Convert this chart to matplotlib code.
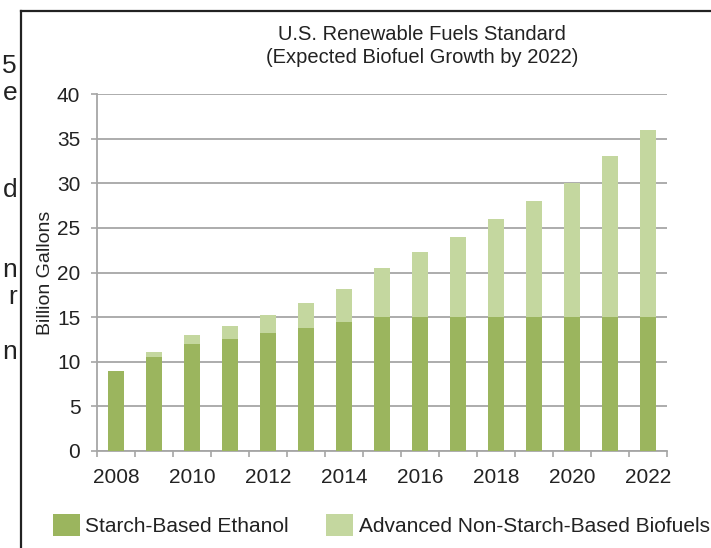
import matplotlib.pyplot as plt
import numpy as np

years = [2008, 2009, 2010, 2011, 2012, 2013, 2014, 2015,
         2016, 2017, 2018, 2019, 2020, 2021, 2022]
starch = [9.0, 10.5, 12.0, 12.6, 13.2, 13.8, 14.4, 15.0,
          15.0, 15.0, 15.0, 15.0, 15.0, 15.0, 15.0]
advanced = [0.0, 0.6, 0.95, 1.35, 2.0, 2.75, 3.75, 5.5,
            7.25, 9.0, 11.0, 13.0, 15.0, 18.0, 21.0]
year_labels = ["2008", "2010", "2012", "2014", "2016", "2018", "2020", "2022"]

dark = "#9bb55e"
light = "#c4d79f"
grid = "#a6a6a6"

plt.rcParams["font.family"] = ["Liberation Sans", "DejaVu Sans"]

W, H = 711, 548
fig = plt.figure(figsize=(W / 100, H / 100), dpi=100)

# frame of the chart box (only left and top edges are visible)
fig.add_artist(plt.Line2D([21 / W, 21 / W], [0, 1 - 11 / H], color="#222222", lw=1.6))
fig.add_artist(plt.Line2D([21 / W, 1], [1 - 11 / H, 1 - 11 / H], color="#222222", lw=1.6))

# clipped page text at the left margin
for ch, y in [("5", 66), ("e", 93), ("d", 190), ("n", 270), ("r", 297), ("n", 352)]:
    fig.text(17 / W, 1 - y / H, ch, ha="right", va="center", fontsize=19, color="#222222")

ax = fig.add_axes([97 / W, 1 - 451 / H, 570 / W, 357 / H])
x = np.arange(len(years))
ax.bar(x, starch, width=0.41, color=dark, label="Starch-Based Ethanol", zorder=3)
ax.bar(x, advanced, width=0.41, bottom=starch, color=light,
       label="Advanced Non-Starch-Based Biofuels", zorder=3)

ax.set_xlim(-0.5, len(years) - 0.5)
ax.set_ylim(0, 40)
ax.set_yticks(range(0, 41, 5))
ax.yaxis.grid(True, color=grid, lw=1.3, zorder=0)
ax.set_axisbelow(True)

ax.set_xticks(np.arange(-0.5, len(years), 1.0))
ax.set_xticklabels([])
ax.set_xticks(x[::2], minor=True)
ax.set_xticklabels(year_labels, minor=True)
ax.tick_params(axis="x", which="major", length=4, width=1.2, color=grid)
ax.tick_params(axis="x", which="minor", length=0, pad=12, labelsize=15, labelcolor="#222222")
ax.tick_params(axis="y", length=4, width=1.2, color=grid, pad=8, labelsize=15,
               labelcolor="#222222")

for s in ["top", "right"]:
    ax.spines[s].set_visible(False)
for s in ["left", "bottom"]:
    ax.spines[s].set_color(grid)
    ax.spines[s].set_linewidth(1.3)

ax.set_ylabel("Billion Gallons", fontsize=14, color="#222222", labelpad=2)

fig.text(422 / W, 1 - 46 / H, "U.S. Renewable Fuels Standard\n(Expected Biofuel Growth by 2022)",
         ha="center", va="center", fontsize=14.5, color="#222222", linespacing=1.3)

fig.legend(loc="center left", bbox_to_anchor=(53 / W, 1 - 525 / H), ncol=2,
           frameon=False, fontsize=15, handlelength=1.3, handleheight=1.3,
           handletextpad=0.25, columnspacing=1.8, borderpad=0, borderaxespad=0,
           labelcolor="#222222")

plt.savefig("out.png", dpi=100)
